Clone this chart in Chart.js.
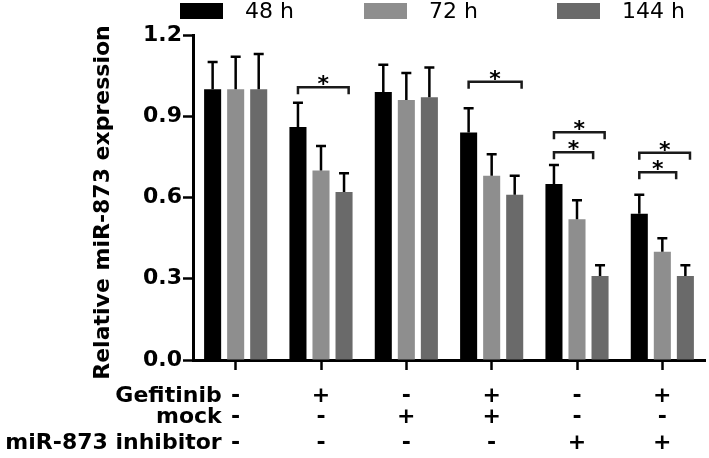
<!DOCTYPE html>
<html>
<head>
<meta charset="utf-8">
<script src="https://cdn.jsdelivr.net/npm/chart.js@4"></script>
<style>
  html, body { margin: 0; padding: 0; background: #fff; }
  #wrap { width: 709px; height: 458px; }
</style>
</head>
<body>
<div id="wrap"><canvas id="chart"></canvas></div>
<script>
// groups (one per treatment combination)
const groups = ['G1', 'G2', 'G3', 'G4', 'G5', 'G6'];
const seriesNames = ['48 h', '72 h', '144 h'];
const seriesColors = ['#000000', '#8e8e8e', '#6a6a6a'];

// mean values
const h48 = [1.00, 0.86, 0.99, 0.84, 0.65, 0.54];
const h72 = [1.00, 0.70, 0.96, 0.68, 0.52, 0.40];
const h144 = [1.00, 0.62, 0.97, 0.61, 0.31, 0.31];

// upper error (SD)
const err48 = [0.10, 0.09, 0.10, 0.09, 0.07, 0.07];
const err72 = [0.12, 0.09, 0.10, 0.08, 0.07, 0.05];
const err144 = [0.13, 0.07, 0.11, 0.07, 0.04, 0.04];

const yTicks = [0.0, 0.3, 0.6, 0.9, 1.2];

// treatment table under the axis
const rowNames = ['Gefitinib', 'mock', 'miR-873 inhibitor'];
const gefitinib = ['-', '+', '-', '+', '-', '+'];
const mock = ['-', '-', '+', '+', '-', '-'];
const inhibitor = ['-', '-', '-', '-', '+', '+'];

// significance brackets: group index, from/to bar (slot units), height
const brackets = [
    { group: 1, from: 0, to: 2.2, level: 1.007 },
    { group: 3, from: 0, to: 2.3, level: 1.027 },
    { group: 4, from: 0, to: 2.2, level: 0.841 },
    { group: 4, from: 0, to: 1.7, level: 0.767 },
    { group: 5, from: 0, to: 2.2, level: 0.765 },
    { group: 5, from: 0, to: 1.6, level: 0.693 },
];

const errors = [err48, err72, err144];
const boldFont = 'bold 22px "DejaVu Sans"';

const extrasPlugin = {
    id: 'extras',
    afterDatasetsDraw(chart) {
        const ctx = chart.ctx;
        const x = chart.scales.x;
        const y = chart.scales.y;
        const area = chart.chartArea;
        ctx.save();

        // error bars (upper only)
        ctx.strokeStyle = '#000';
        ctx.lineWidth = 2.5;
        chart.data.datasets.forEach((ds, di) => {
            const meta = chart.getDatasetMeta(di);
            meta.data.forEach((bar, i) => {
                const top = y.getPixelForValue(ds.data[i]);
                const cap = y.getPixelForValue(ds.data[i] + errors[di][i]);
                ctx.beginPath();
                ctx.moveTo(bar.x, top);
                ctx.lineTo(bar.x, cap);
                ctx.moveTo(bar.x - 5, cap);
                ctx.lineTo(bar.x + 5, cap);
                ctx.stroke();
            });
        });

        // brackets with stars
        const slot = chart.getDatasetMeta(1).data[0].x - chart.getDatasetMeta(0).data[0].x;
        ctx.strokeStyle = '#1a1a1a';
        ctx.lineWidth = 2.5;
        ctx.fillStyle = '#000';
        ctx.font = boldFont;
        ctx.textAlign = 'center';
        ctx.textBaseline = 'alphabetic';
        brackets.forEach(b => {
            const base = chart.getDatasetMeta(0).data[b.group].x;
            const x1 = base + b.from * slot;
            const x2 = base + b.to * slot;
            const yy = y.getPixelForValue(b.level);
            ctx.beginPath();
            ctx.moveTo(x1, yy + 7);
            ctx.lineTo(x1, yy);
            ctx.lineTo(x2, yy);
            ctx.lineTo(x2, yy + 7);
            ctx.stroke();
            ctx.fillText('*', (x1 + x2) / 2, yy + 4);
        });

        // y axis title
        ctx.save();
        ctx.translate(103, (area.top + area.bottom) / 2 + 5);
        ctx.rotate(-Math.PI / 2);
        ctx.textBaseline = 'middle';
        ctx.fillText('Relative miR-873 expression', 0, 0);
        ctx.restore();

        // treatment table
        const rows = [gefitinib, mock, inhibitor];
        const rowOffsets = [42, 63, 89];
        rows.forEach((row, r) => {
            const yy = area.bottom + rowOffsets[r];
            ctx.textAlign = 'right';
            ctx.fillText(rowNames[r], x.getPixelForValue(0) - 14, yy);
            ctx.textAlign = 'center';
            row.forEach((s, i) => {
                ctx.fillText(s, x.getPixelForValue(i), yy);
            });
        });

        // legend
        ctx.font = '22px "DejaVu Sans"';
        ctx.textAlign = 'left';
        ctx.textBaseline = 'middle';
        const legendStart = [180, 364, 557];
        seriesNames.forEach((name, i) => {
            ctx.fillStyle = seriesColors[i];
            ctx.fillRect(legendStart[i], 3, 43, 16);
            ctx.fillStyle = '#000';
            ctx.fillText(name, legendStart[i] + 65, 12);
        });
        ctx.restore();
    }
};

const ctx = document.getElementById('chart').getContext('2d');
new Chart(ctx, {
    type: 'bar',
    data: {
        labels: groups,
        datasets: [h48, h72, h144].map((vals, i) => ({
            label: seriesNames[i],
            data: vals,
            backgroundColor: seriesColors[i],
            borderWidth: 0,
            categoryPercentage: 0.81,
            barPercentage: 0.74,
        }))
    },
    options: {
        responsive: true,
        maintainAspectRatio: false,
        animation: false,
        layout: { padding: { top: 35, right: 4, left: 0, bottom: 0 } },
        plugins: {
            legend: { display: false },
            tooltip: { enabled: false },
        },
        scales: {
            x: {
                grid: {
                    offset: false,
                    drawOnChartArea: false,
                    drawTicks: true,
                    tickLength: 10,
                    tickWidth: 2.5,
                    tickColor: '#000',
                },
                border: { color: '#000', width: 3 },
                ticks: { display: false },
                afterFit: (scale) => { scale.height = 98; },
            },
            y: {
                min: 0,
                max: 1.2,
                afterBuildTicks: (scale) => {
                    scale.ticks = yTicks.map(v => ({ value: v }));
                },
                grid: {
                    drawOnChartArea: false,
                    drawTicks: true,
                    tickLength: 10,
                    tickWidth: 2.5,
                    tickColor: '#000',
                },
                border: { color: '#000', width: 3 },
                ticks: {
                    color: '#000',
                    padding: 1,
                    font: { family: 'DejaVu Sans', weight: 'bold', size: 22 },
                    callback: (v) => Number(v).toFixed(1),
                },
                afterFit: (scale) => { scale.width = 193; },
            }
        }
    },
    plugins: [extrasPlugin]
});
</script>
</body>
</html>
